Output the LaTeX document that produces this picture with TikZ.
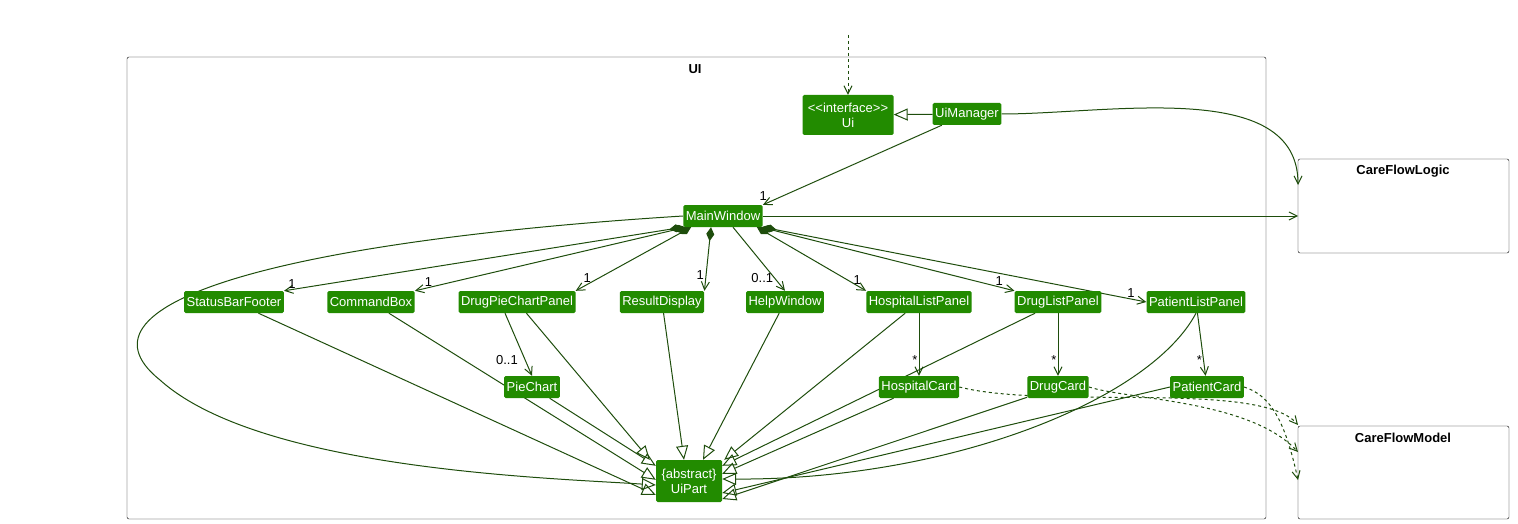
\documentclass[tikz,border=0pt]{standalone}
\usepackage{fontspec}
\setmainfont{Liberation Sans}
\usetikzlibrary{arrows.meta,backgrounds}
\definecolor{cf}{HTML}{228B00}
\definecolor{ln}{HTML}{1E4D0C}
\begin{document}
\begin{tikzpicture}[x=1pt,y=-1pt,
  cls/.style={fill=cf,text=white,rounded corners=1.5pt,inner sep=2.5pt,minimum height=22pt,font=\fontsize{13}{15}\selectfont,align=center},
  pkg/.style={draw=black,rounded corners=2pt},
  e/.style={draw=ln,line width=1pt},
  inh/.style={e,-{Triangle[open,length=14pt,width=12pt]}},
  ass/.style={e,-{Straight Barb[length=8pt,width=8pt]}},
  comp/.style={e,{Diamond[length=14pt,width=8pt,fill=ln]}-{Straight Barb[length=8pt,width=8pt]}},
  dep/.style={e,dashed,-{Straight Barb[length=8pt,width=8pt]}},
  lbl/.style={font=\fontsize{13}{15}\selectfont,inner sep=1pt}]
\useasboundingbox (0,0) rectangle (1518,524);
\node[font=\bfseries\fontsize{13}{15}\selectfont] (uil) at (695,69) {UI};
\node[font=\bfseries\fontsize{13}{15}\selectfont] (lg) at (1403,171) {CareFlowLogic};
\coordinate (lgtop) at (1298,185);
\coordinate (lgmid) at (1298,216);
\node[font=\bfseries\fontsize{13}{15}\selectfont] (md) at (1403,438) {CareFlowModel};
\coordinate (m1) at (1298,425);
\coordinate (m2) at (1298,452);
\coordinate (m3) at (1298,480);

\node[cls,minimum width=91pt,minimum height=40pt] (ui) at (848,115) {<\kern0pt<interface>\kern0pt>\\Ui};
\node[cls] (um) at (967,114) {UiManager};
\node[cls] (mw) at (723,216) {MainWindow};
\node[cls] (sb) at (234,302) {StatusBarFooter};
\node[cls] (cb) at (371,302) {CommandBox};
\node[cls] (dp) at (517,302) {DrugPieChartPanel};
\node[cls] (rd) at (662,302) {ResultDisplay};
\node[cls] (hw) at (785,302) {HelpWindow};
\node[cls] (hl) at (919,302) {HospitalListPanel};
\node[cls] (dl) at (1058,302) {DrugListPanel};
\node[cls] (pl) at (1196,302) {PatientListPanel};
\node[cls] (pc) at (532,387) {PieChart};
\node[cls] (hc) at (919,387) {HospitalCard};
\node[cls] (dc) at (1058,387) {DrugCard};
\node[cls] (ptc) at (1207,387) {PatientCard};
\node[cls,minimum width=66pt,minimum height=42pt] (up) at (689,481) {\{abstract\}\\UiPart};

\begin{scope}[on background layer]
\draw[pkg] (127,57) rectangle (1266,519);
\draw[pkg] (1298,159) rectangle (1509,253);
\draw[pkg] (1298,426) rectangle (1509,519);
\coordinate (top) at (848,35);
\draw[dep] (top) -- (ui);
\draw[inh] (um) -- (ui);
\draw[ass] (um) -- (mw.north east) node[lbl,pos=0.97,above left] {1};
\draw[ass] (um.east) to[out=0,in=90,looseness=0.9] (lgtop);
\draw[ass] (mw) -- (lgmid);

\draw[comp] (mw.south west) -- (sb.north east) node[lbl,pos=0.98,above] {1};
\draw[comp] ([xshift=3pt]mw.south west) -- (cb.north east) node[lbl,pos=0.95,above] {1};
\draw[comp] ([xshift=8pt]mw.south west) -- (dp.north east) node[lbl,pos=0.9,above] {1};
\draw[comp] ([xshift=-12pt]mw.south) -- (rd.north east) node[lbl,pos=0.85,above left] {1};
\draw[ass] ([xshift=10pt]mw.south) -- (hw.north) node[lbl,pos=0.8,left] {0..1};
\draw[comp] ([xshift=-6pt]mw.south east) -- (hl.north west) node[lbl,pos=0.92,above] {1};
\draw[comp] ([xshift=-2pt]mw.south east) -- (dl.north west) node[lbl,pos=0.94,above] {1};
\draw[comp] (mw.south east) -- (pl.west) node[lbl,pos=0.96,above] {1};

\draw[ass] ([xshift=-12pt]dp.south) -- (pc.north) node[lbl,pos=0.75,left=6pt] {0..1};
\draw[ass] (hl) -- (hc) node[lbl,pos=0.75,left] {*};
\draw[ass] (dl) -- (dc) node[lbl,pos=0.75,left] {*};
\draw[ass] (pl) -- (ptc) node[lbl,pos=0.75,left] {*};

\draw[inh] (mw.west) .. controls (300,240) and (60,300) .. (160,380) .. controls (260,470) and (550,478) .. ([yshift=-4pt]up.west);
\draw[inh] (sb) -- ([yshift=-14pt]up.west);
\draw[inh] (cb) -- ([yshift=-20pt]up.north west);
\draw[inh] (dp) -- ([xshift=-6pt]up.north west);
\draw[inh] (pc) -- ([yshift=-6pt]up.north west);
\draw[inh] (rd) -- ([xshift=-5pt]up.north);
\draw[inh] (hw) -- ([xshift=14pt]up.north);
\draw[inh] (hl) -- ([xshift=2pt]up.north east);
\draw[inh] (dl) -- ([yshift=-6pt]up.north east);
\draw[inh] (hc) -- ([yshift=-14pt]up.north east);
\draw[inh] (dc) -- ([yshift=-18pt]up.east);
\draw[inh] (ptc.west) -- ([yshift=-12pt]up.east);
\draw[inh] (pl.south) .. controls (1150,400) and (950,480) .. ([yshift=2pt]up.east);

\draw[dep] (hc.east) .. controls (1050,410) and (1260,380) .. (m1);
\draw[dep] (dc.east) .. controls (1130,400) and (1250,400) .. (m2);
\draw[dep] (ptc.east) .. controls (1270,395) and (1285,420) .. (m3);
\end{scope}
\end{tikzpicture}
\end{document}
